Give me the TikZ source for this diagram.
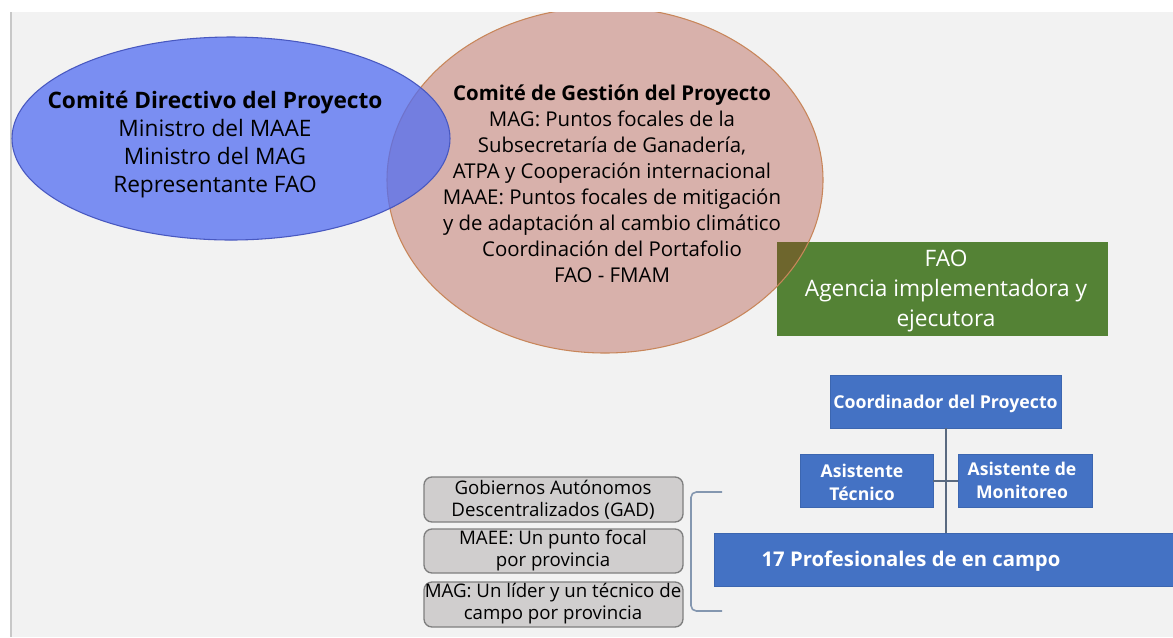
\documentclass[tikz,border=0pt]{standalone}
\usepackage{fontspec}
\setmainfont{Open Sans}
\usetikzlibrary{shapes.geometric}
\definecolor{bg}{HTML}{F2F2F2}
\definecolor{edgegrey}{HTML}{C8C8C8}
\definecolor{ovalblue}{RGB}{82,109,242}
\definecolor{ovalblueedge}{HTML}{4858C0}
\definecolor{ovalpink}{RGB}{164,45,29}
\definecolor{ovalpinkedge}{HTML}{C8865A}
\definecolor{faogreen}{HTML}{548235}
\definecolor{boxblue}{HTML}{4472C4}
\definecolor{boxblueedge}{HTML}{3C66B0}
\definecolor{greybox}{HTML}{D0CECE}
\definecolor{greyboxedge}{HTML}{7F7F7F}
\definecolor{linkline}{HTML}{5A6A80}
\definecolor{bracecol}{HTML}{8497B0}
\tikzset{
  ovaltext/.style={align=center, text=black, inner sep=0pt},
  bluebox/.style={fill=boxblue, draw=boxblueedge, line width=0.6pt, inner sep=0pt},
  boxtext/.style={align=center, text=white, inner sep=0pt, font=\bfseries},
  greyitem/.style={fill=greybox, draw=greyboxedge, line width=1pt, rounded corners=6pt},
  itemtext/.style={align=center, text=black, inner sep=0pt},
  link/.style={draw=linkline, line width=1.5pt},
  bracket/.style={draw=bracecol, line width=1.2pt, rounded corners=4pt}
}
\begin{document}
\begin{tikzpicture}[x=0.75pt,y=-0.75pt]
\useasboundingbox (0,0) rectangle (1173,637);
% background
\fill[white] (0,0) rectangle (1173,637);
\fill[bg] (11,12) rectangle (1173,637);
\draw[edgegrey, line width=1pt] (11,12) -- (11,637);

% green FAO box
\node[fill=faogreen, minimum width=248.25pt, minimum height=70.5pt, inner sep=0pt] (fao) at (942.5,289) {};
\node[align=center, text=white, inner sep=0pt, font=\fontsize{17}{22.5}\selectfont] (faotext) at (946,291)
  {FAO\\Agencia implementadora y\\ejecutora};

% ovals
\begin{scope}
\clip (11,12) rectangle (1173,637);
\node[ellipse, minimum width=327pt, minimum height=259.5pt, inner sep=0pt,
      fill=ovalpink, fill opacity=0.33, draw=ovalpinkedge, line width=0.8pt] (gestion) at (605,180) {};
\node[ellipse, minimum width=328.5pt, minimum height=152.25pt, inner sep=0pt,
      fill=ovalblue, fill opacity=0.75, draw=ovalblueedge, line width=0.8pt] (directivo) at (231,138.5) {};
\end{scope}

\node[ovaltext, font=\fontsize{17}{21}\selectfont] (dirtext) at (215,145)
  {\textbf{Comité Directivo del Proyecto}\\Ministro del MAAE\\Ministro del MAG\\Representante FAO};
\node[ovaltext, font=\fontsize{15.3}{19.5}\selectfont] (gestext) at (612,183.5)
  {\textbf{Comité de Gestión del Proyecto}\\MAG: Puntos focales de la\\Subsecretaría de Ganadería,\\ATPA y Cooperación internacional\\MAAE: Puntos focales de mitigación\\y de adaptación al cambio climático\\Coordinación del Portafolio\\FAO - FMAM};

% org chart
\node[bluebox, minimum width=173.25pt, minimum height=39.75pt] (coord) at (945.5,401.5) {};
\node[boxtext, font=\bfseries\fontsize{13.3}{17}\selectfont] (coordtext) at (945.5,404) {Coordinador del Proyecto};

\node[bluebox, minimum width=99.75pt, minimum height=39.75pt] (tec) at (866.5,480.5) {};
\node[boxtext, font=\bfseries\fontsize{13.2}{17.25}\selectfont] (tectext) at (862,482) {Asistente\\Técnico};

\node[bluebox, minimum width=100.5pt, minimum height=39.75pt] (mon) at (1025,480.5) {};
\node[boxtext, font=\bfseries\fontsize{13.2}{17.25}\selectfont] (montext) at (1022,480) {Asistente de\\Monitoreo};

\node[bluebox, minimum width=344.25pt, minimum height=39.75pt] (prof) at (943.5,559.5) {};
\node[boxtext, font=\bfseries\fontsize{15.2}{19}\selectfont] (proftext) at (911,561) {17 Profesionales de en campo};

\draw[link] (coord.south) -- (coord.south |- prof.north);
\draw[link] (tec.east) -- (mon.west);

% grey items
\node[greyitem, minimum width=194.25pt, minimum height=33.75pt] (gad) at (553.5,499.5) {};
\node[itemtext, font=\fontsize{14}{16.5}\selectfont] (gadtext) at (553,499.5) {Gobiernos Autónomos\\Descentralizados (GAD)};
\node[greyitem, minimum width=194.25pt, minimum height=33pt] (maee) at (553.5,551) {};
\node[itemtext, font=\fontsize{14}{16.5}\selectfont] (maeetext) at (553,550.5) {MAEE: Un punto focal\\por provincia};
\node[greyitem, minimum width=194.25pt, minimum height=33.75pt] (mag) at (553.5,604.5) {};
\node[itemtext, font=\fontsize{14}{16.5}\selectfont] (magtext) at (553,603.5) {MAG: Un líder y un técnico de\\campo por provincia};

% bracket
\coordinate (bt) at (722,492);
\coordinate (bb) at (722,611);
\draw[bracket] (bt) -- (691,492) -- (691,611) -- (bb);
\end{tikzpicture}
\end{document}
